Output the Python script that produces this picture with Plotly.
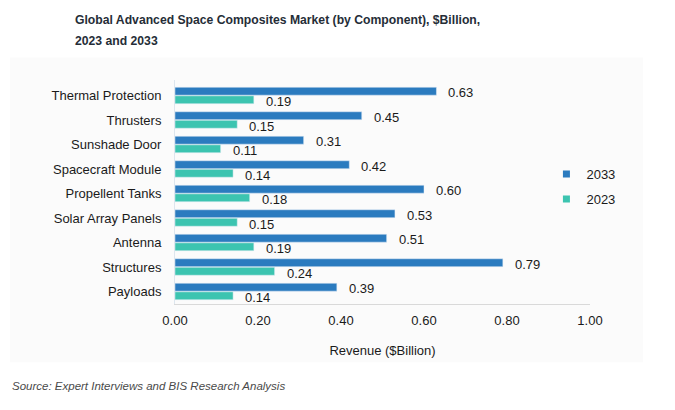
import plotly.graph_objects as go

categories = ["Thermal Protection", "Thrusters", "Sunshade Door", "Spacecraft Module",
              "Propellent Tanks", "Solar Array Panels", "Antenna", "Structures", "Payloads"]
values_2033 = [0.63, 0.45, 0.31, 0.42, 0.60, 0.53, 0.51, 0.79, 0.39]
values_2023 = [0.19, 0.15, 0.11, 0.14, 0.18, 0.15, 0.19, 0.24, 0.14]
x_ticks = [0, 0.2, 0.4, 0.6, 0.8, 1.0]
x_tick_labels = ["0.00", "0.20", "0.40", "0.60", "0.80", "1.00"]

C33 = "#2b7bbf"
C23 = "#3cc4b0"
FONT = "Liberation Sans, Arial, sans-serif"

fig = go.Figure()
fig.add_trace(go.Bar(y=categories, x=values_2033, orientation="h", marker_color=C33,
                     name="2033", showlegend=False))
fig.add_trace(go.Bar(y=categories, x=values_2023, orientation="h", marker_color=C23,
                     name="2023", showlegend=False))
# legend entries with small squares
fig.add_trace(go.Scatter(x=[None], y=[None], mode="markers", name="2033", legendgroup="a",
                         marker=dict(symbol="square", size=7, color=C33)))
fig.add_trace(go.Scatter(x=[None], y=[None], mode="markers", name="2023", legendgroup="b",
                         marker=dict(symbol="square", size=7, color=C23)))

annotations = []
for c, v in zip(categories, values_2033):
    annotations.append(dict(x=v, y=c, xref="x", yref="y", text=f"{v:.2f}", showarrow=False,
                            xanchor="left", xshift=10, yshift=3,
                            font=dict(family=FONT, size=13, color="#1a1a1a")))
for c, v in zip(categories, values_2023):
    annotations.append(dict(x=v, y=c, xref="x", yref="y", text=f"{v:.2f}", showarrow=False,
                            xanchor="left", xshift=10, yshift=-6,
                            font=dict(family=FONT, size=13, color="#1a1a1a")))

annotations.append(dict(x=-0.2458, y=1.268, xref="paper", yref="paper", showarrow=False,
                        xanchor="left", yanchor="middle",
                        text="<b>Global Advanced Space Composites Market (by Component), $Billion,</b>",
                        font=dict(family=FONT, size=12.2, color="#252d37")))
annotations.append(dict(x=-0.2458, y=1.174, xref="paper", yref="paper", showarrow=False,
                        xanchor="left", yanchor="middle",
                        text="<b>2023 and 2033</b>",
                        font=dict(family=FONT, size=12.2, color="#252d37")))
annotations.append(dict(x=-0.3976, y=-0.365, xref="paper", yref="paper", showarrow=False,
                        xanchor="left", yanchor="middle",
                        text="<i>Source: Expert Interviews and BIS Research Analysis</i>",
                        font=dict(family=FONT, size=11.5, color="#4a4a4a")))

fig.update_layout(
    width=675, height=410,
    margin=dict(l=175, r=85, t=80, b=106),
    paper_bgcolor="white", plot_bgcolor="rgba(0,0,0,0)",
    barmode="group", bargap=0.3, bargroupgap=0.08,
    font=dict(family=FONT, size=13, color="#1a1a1a"),
    annotations=annotations,
    shapes=[dict(type="rect", xref="paper", yref="paper", x0=-0.3976, x1=1.1277,
                 y0=-0.26, y1=1.1, fillcolor="#fbfbfb", line=dict(width=0), layer="below")],
    legend=dict(x=0.895, y=0.647, xanchor="left", yanchor="top", traceorder="grouped",
                tracegroupgap=5, itemwidth=30, bgcolor="rgba(0,0,0,0)",
                font=dict(family=FONT, size=13, color="#1a1a1a")),
    xaxis=dict(range=[0, 1.0], tickvals=x_ticks, ticktext=x_tick_labels, showgrid=False,
               zeroline=False, showline=True, linecolor="#d9d9d9", linewidth=1,
               ticks="", ticklabelstandoff=4,
               title=dict(text="Revenue ($Billion)", standoff=19,
                          font=dict(family=FONT, size=13, color="#1a1a1a"))),
    yaxis=dict(autorange="reversed", showgrid=False, zeroline=False, showline=True,
               linecolor="#dde6ee", linewidth=1, ticks="", ticklabelstandoff=10),
)

fig.write_html("out.html")
